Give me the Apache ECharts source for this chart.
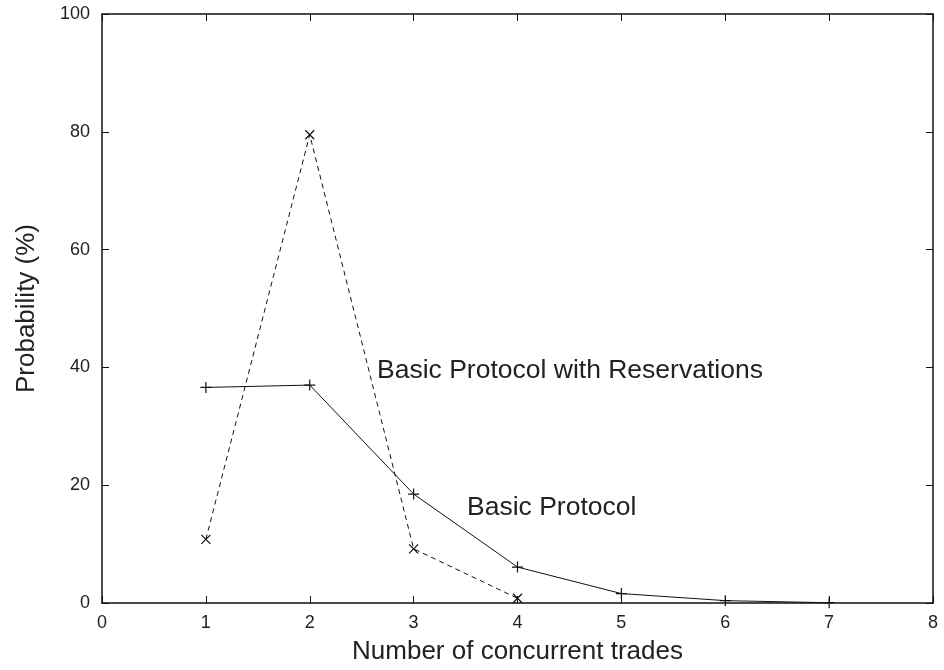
<!DOCTYPE html>
<html><head><meta charset="utf-8">
<script src="https://cdn.jsdelivr.net/npm/echarts@6/dist/echarts.min.js"></script>
<style>html,body{margin:0;padding:0;background:#fff}#c{width:944px;height:670px}</style>
</head><body><div id="c"></div>
<script>
const xValues = [1, 2, 3, 4, 5, 6, 7];
const basicProtocol = [36.6, 37.0, 18.5, 6.1, 1.6, 0.4, 0.05];
const resX = [1, 2, 3, 4];
const withReservations = [10.8, 79.5, 9.2, 0.8];
const xTitle = 'Number of concurrent trades';
const yTitle = 'Probability (%)';
const labelBasic = 'Basic Protocol';
const labelRes = 'Basic Protocol with Reservations';

const FONT = '"Liberation Sans", Arial, sans-serif';
const plus = 'path://M0,5L10,5M5,0L5,10';
const cross = 'path://M0,0L10,10M10,0L0,10';
const chart = echarts.init(document.getElementById('c'), null, {renderer: 'canvas'});
const axLine = {show: true, onZero: false, lineStyle: {color: '#111', width: 1.5}};
const tick = {show: true, inside: true, length: 7, lineStyle: {color: '#111', width: 1}};
chart.setOption({
  backgroundColor: '#fff',
  animation: false,
  grid: {left: 102, right: 11, top: 14, bottom: 63, containLabel: false},
  xAxis: [
    {type: 'value', min: 0, max: 8, interval: 1, position: 'bottom',
     axisLine: axLine, axisTick: tick, splitLine: {show: false},
     axisLabel: {color: '#222', fontFamily: FONT, fontSize: 18, margin: 11},
     name: xTitle, nameLocation: 'middle', nameGap: 36,
     nameTextStyle: {color: '#222', fontFamily: FONT, fontSize: 26}},
    {type: 'value', min: 0, max: 8, interval: 1, position: 'top',
     axisLine: axLine, axisTick: tick, axisLabel: {show: false}, splitLine: {show: false}}
  ],
  yAxis: [
    {type: 'value', min: 0, max: 100, interval: 20, position: 'left',
     axisLine: axLine, axisTick: tick, splitLine: {show: false},
     axisLabel: {color: '#222', fontFamily: FONT, fontSize: 18, margin: 12},
     name: yTitle, nameLocation: 'middle', nameGap: 62,
     nameTextStyle: {color: '#222', fontFamily: FONT, fontSize: 26}},
    {type: 'value', min: 0, max: 100, interval: 20, position: 'right',
     axisLine: axLine, axisTick: tick, axisLabel: {show: false}, splitLine: {show: false}}
  ],
  series: [
    {type: 'line', name: labelBasic, data: xValues.map((x, i) => [x, basicProtocol[i]]),
     symbol: plus, symbolSize: 11, showAllSymbol: true,
     lineStyle: {color: '#111', width: 1, type: 'solid'},
     itemStyle: {color: 'none', borderColor: '#111', borderWidth: 1.2}},
    {type: 'line', name: labelRes, data: resX.map((x, i) => [x, withReservations[i]]),
     symbol: cross, symbolSize: 9, showAllSymbol: true,
     lineStyle: {color: '#111', width: 1, type: [5, 4]},
     itemStyle: {color: 'none', borderColor: '#111', borderWidth: 1.2}}
  ],
  graphic: [
    {type: 'text', left: 377, top: 357, style: {text: labelRes, font: '26.5px ' + FONT, fill: '#222'}},
    {type: 'text', left: 467, top: 494, style: {text: labelBasic, font: '26.5px ' + FONT, fill: '#222'}}
  ]
});
</script></body></html>
